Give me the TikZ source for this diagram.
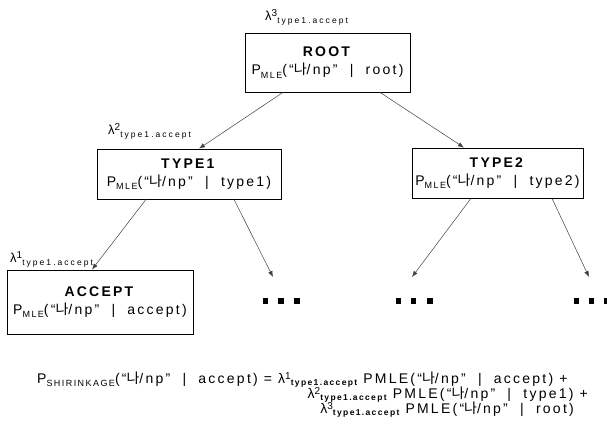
\documentclass[tikz,border=0pt]{standalone}
\usepackage{fontspec}
\setmainfont[LetterSpace=16]{Liberation Sans}
\newfontfamily\krfont[LetterSpace=16]{Noto Sans CJK KR}
\newfontfamily\widesub[LetterSpace=24]{Liberation Sans}
\usetikzlibrary{arrows.meta}
\newcommand{\na}{{\krfont 나}}
\newcommand{\lsub}[1]{\raisebox{-0.45ex}{\fontsize{9}{10}\selectfont #1}}
\newcommand{\fsub}[1]{\raisebox{-0.3ex}{\fontsize{8.5}{9}\selectfont\bfseries #1}}
\newcommand{\tsub}[1]{\raisebox{-0.45ex}{\widesub\fontsize{8.5}{9}\selectfont #1}}
\newcommand{\lsupr}[1]{\raisebox{0.5ex}{\fontsize{10}{11}\selectfont #1}}
\newcommand{\pmle}[1]{P\lsub{MLE}(“\na/np”\ \ |\ \ #1)}
\tikzset{
  box/.style={draw, line width=0.8pt, inner sep=0pt, align=center, font=\fontsize{14}{17}\selectfont},
  edge/.style={draw=black!75, line width=0.5pt, -{Latex[length=6pt,width=4.5pt]}},
  lam/.style={font=\fontsize{13}{15}\selectfont, inner sep=0pt, anchor=base west},
  eq/.style={font=\fontsize{14}{16}\selectfont, inner sep=0pt},
  dot/.style={fill=black, minimum size=5.5pt, inner sep=0pt}
}
\begin{document}
\begin{tikzpicture}[x=1pt, y=-1pt]
\useasboundingbox (0,0) rectangle (607,423);
% boxes
\node[box, minimum width=165pt, minimum height=59pt] (root) at (327.5,62.5) {\textbf{ROOT}\\[1pt]\pmle{root}};
\node[box, minimum width=184pt, minimum height=50pt] (type1) at (189,174) {\textbf{TYPE1}\\[1pt]\pmle{type1}};
\node[box, minimum width=171pt, minimum height=50pt] (type2) at (497.5,173) {\textbf{TYPE2}\\[1pt]\pmle{type2}};
\node[box, minimum width=186pt, minimum height=64pt] (accept) at (100,302) {\textbf{ACCEPT}\\[1pt]\pmle{accept}};
% lambda labels
\node[lam] (l3) at (265,20) {λ\lsupr{3}\tsub{type1.accept}};
\node[lam] (l2) at (108,134) {λ\lsupr{2}\tsub{type1.accept}};
\node[lam] (l1) at (10,262) {λ\lsupr{1}\tsub{type1.accept}};
% dots
\foreach \n/\x in {a1/265.5,a2/281,a3/297,b1/398.7,b2/413.7,b3/430,c1/576.3,c2/591.3,c3/606.3}
  \node[dot] (\n) at (\x,301) {};
% arrow targets
\coordinate (t1) at (273,277);
\coordinate (t2) at (412,277);
\coordinate (t3) at (589,277);
% connectors
\draw[edge] (root.south -| 283,0) -- (type1.north -| 199,0);
\draw[edge] (root.south -| 380,0) -- (type2.north -| 464,0);
\draw[edge] (type1.south -| 146,0) -- (accept.north -| 92,0);
\draw[edge] (type1.south -| 234,0) -- (t1);
\draw[edge] (type2.south -| 471,0) -- (t2);
\draw[edge] (type2.south -| 552,0) -- (t3);
% formula
\node[eq, anchor=base west] (f1) at (37,383) {P\lsub{SHIRINKAGE}(“\na/np”\ \ |\ \ accept) = λ\lsupr{1}\fsub{type1.accept} PMLE(“\na/np”\ \ |\ \ accept) +};
\node[eq, anchor=base east] (f2) at (588,398) {λ\lsupr{2}\fsub{type1.accept}\ PMLE(“\na/np”\ \ |\ \ type1) +};
\node[eq, anchor=base east] (f3) at (574,413) {λ\lsupr{3}\fsub{type1.accept}\ PMLE(“\na/np”\ \ |\ \ root)};
\end{tikzpicture}
\end{document}
